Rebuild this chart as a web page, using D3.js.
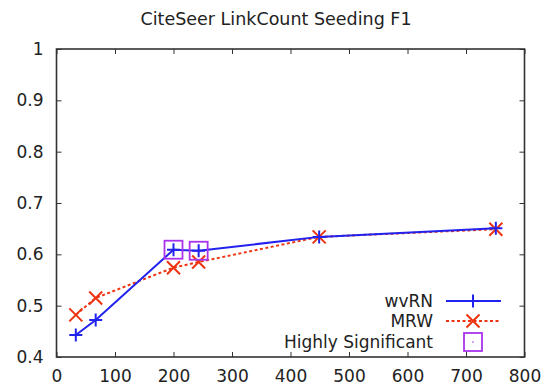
<!DOCTYPE html>
<html><head><meta charset="utf-8">
<script src="https://cdn.jsdelivr.net/npm/d3@7"></script>
<style>body{margin:0;background:#fff}svg{display:block}text{font-family:"DejaVu Sans",sans-serif;fill:#222}</style>
</head><body><svg id="c" width="547" height="388"></svg>
<script>
const xs = [33, 67, 200, 243, 449, 751];
const wvRN = [0.443, 0.472, 0.609, 0.607, 0.634, 0.651];
const mrw = [0.482, 0.515, 0.574, 0.585, 0.634, 0.649];
const sigX = [200, 243];
const sigY = [0.609, 0.607];
const xTicks = [0, 100, 200, 300, 400, 500, 600, 700, 800];
const yTicks = [0.4, 0.5, 0.6, 0.7, 0.8, 0.9, 1];
const title = "CiteSeer LinkCount Seeding F1";
const legendLabels = ["wvRN", "MRW", "Highly Significant"];

const FONT = "DejaVu Sans, sans-serif";
const FS = 17;
const svg = d3.select("#c");
const L = 56.5, R = 524.5, T = 49, B = 357;
const x = d3.scaleLinear().domain([0, 800]).range([L, R]);
const y = d3.scaleLinear().domain([0.4, 1]).range([B, T]);

svg.append("text").attr("x", 276).attr("y", 25).attr("text-anchor", "middle").attr("font-size", 17.5).text(title);

const tk = 5;
const styleText = g => g.selectAll("text").attr("font-size", FS).attr("fill", "#222").attr("font-family", FONT);
svg.append("g").attr("transform", `translate(0,${B})`)
  .call(d3.axisBottom(x).tickValues(xTicks).tickFormat(d3.format("d")).tickSizeInner(-tk).tickSizeOuter(0).tickPadding(13))
  .call(g => { g.select(".domain").remove(); styleText(g); g.selectAll("line").attr("stroke", "#333"); });
svg.append("g").attr("transform", `translate(0,${T})`)
  .call(d3.axisTop(x).tickValues(xTicks).tickFormat("").tickSizeInner(-tk).tickSizeOuter(0))
  .call(g => { g.select(".domain").remove(); g.selectAll("line").attr("stroke", "#333"); });
svg.append("g").attr("transform", `translate(${L},0)`)
  .call(d3.axisLeft(y).tickValues(yTicks).tickFormat(d => d === 1 ? "1" : d3.format(".1f")(d)).tickSizeInner(-tk).tickSizeOuter(0).tickPadding(13))
  .call(g => { g.select(".domain").remove(); styleText(g); g.selectAll("line").attr("stroke", "#333"); });
svg.append("g").attr("transform", `translate(${R},0)`)
  .call(d3.axisRight(y).tickValues(yTicks).tickFormat("").tickSizeInner(-tk).tickSizeOuter(0))
  .call(g => { g.select(".domain").remove(); g.selectAll("line").attr("stroke", "#333"); });

svg.append("rect").attr("x", L).attr("y", T).attr("width", R - L).attr("height", B - T)
  .attr("fill", "none").attr("stroke", "#333").attr("stroke-width", 1.6);

const blue = "#2222ee", red = "#ee3311", purple = "#aa33ee";
const line = d3.line().x(d => x(d[0])).y(d => y(d[1]));
const wd = xs.map((v, i) => [v, wvRN[i]]);
const md = xs.map((v, i) => [v, mrw[i]]);

svg.append("path").datum(md).attr("d", line).attr("fill", "none").attr("stroke", red).attr("stroke-width", 2).attr("stroke-dasharray", "3,2.5");
svg.append("path").datum(wd).attr("d", line).attr("fill", "none").attr("stroke", blue).attr("stroke-width", 2);

function plus(g, cx, cy, s, c) {
  g.append("path").attr("d", `M${cx - s},${cy}H${cx + s}M${cx},${cy - s}V${cy + s}`).attr("stroke", c).attr("stroke-width", 2).attr("fill", "none");
}
function cross(g, cx, cy, s, c) {
  g.append("path").attr("d", `M${cx - s},${cy - s}L${cx + s},${cy + s}M${cx - s},${cy + s}L${cx + s},${cy - s}`).attr("stroke", c).attr("stroke-width", 2).attr("fill", "none");
}
function square(g, cx, cy, s, c) {
  g.append("rect").attr("x", cx - s).attr("y", cy - s).attr("width", 2 * s).attr("height", 2 * s).attr("fill", "none").attr("stroke", c).attr("stroke-width", 1.8);
}
const mg = svg.append("g");
md.forEach(d => cross(mg, x(d[0]), y(d[1]), 6.5, red));
wd.forEach(d => plus(mg, x(d[0]), y(d[1]), 6.5, blue));
sigX.forEach((v, i) => square(mg, x(v), y(sigY[i]), 9, purple));

const lx = 433, ly = [301, 321, 342];
const lg = svg.append("g");
legendLabels.forEach((t, i) => lg.append("text").attr("x", lx).attr("y", ly[i] + 6).attr("text-anchor", "end").attr("font-size", FS).text(t));
lg.append("line").attr("x1", 446).attr("x2", 501).attr("y1", ly[0]).attr("y2", ly[0]).attr("stroke", blue).attr("stroke-width", 2);
plus(lg, 473, ly[0], 6.5, blue);
lg.append("line").attr("x1", 446).attr("x2", 501).attr("y1", ly[1]).attr("y2", ly[1]).attr("stroke", red).attr("stroke-width", 2).attr("stroke-dasharray", "3,2.5");
cross(lg, 473, ly[1], 6.5, red);
square(lg, 473, ly[2], 9, purple);
lg.append("circle").attr("cx", 473).attr("cy", ly[2]).attr("r", 0.8).attr("fill", purple);
</script></body></html>
